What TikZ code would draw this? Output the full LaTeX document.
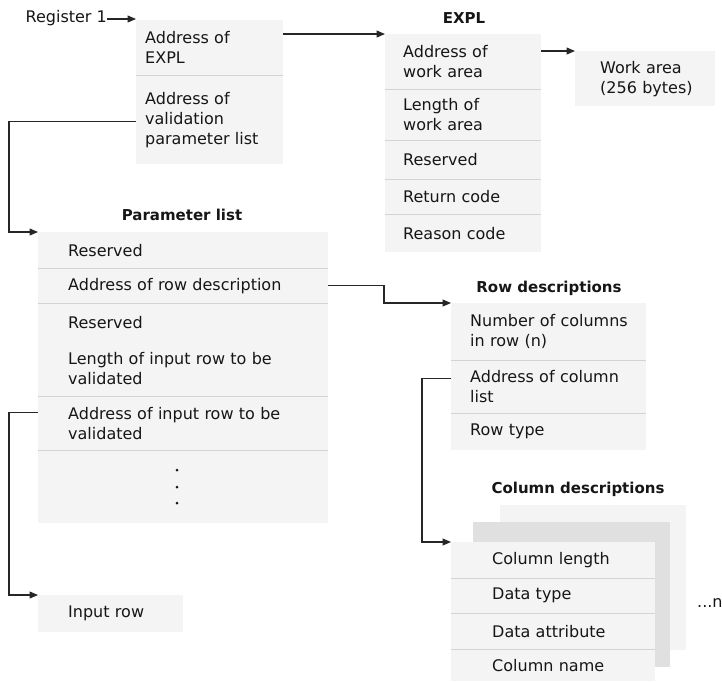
\documentclass[tikz,border=0pt]{standalone}
\usepackage{fontspec}
\setmainfont{DejaVu Sans}
\usetikzlibrary{arrows.meta,positioning}
\definecolor{cellbg}{HTML}{F4F4F4}
\definecolor{cellrule}{HTML}{D4D4D4}
\definecolor{shadebg}{HTML}{E0E0E0}
\definecolor{inkclr}{HTML}{161616}
\definecolor{wireclr}{HTML}{262626}

\begin{document}
\begin{tikzpicture}[x=1pt, y=-1pt,
  font=\fontsize{16}{20}\selectfont, text=inkclr,
  cell/.style={fill=cellbg, anchor=north west, inner sep=0pt, align=left,
    execute at begin node={\leftskip=#1pt\relax}},
  ptrcell/.style={cell=9, text width=147},
  explcell/.style={cell=18, text width=156},
  parmcell/.style={cell=30, text width=290},
  rowcell/.style={cell=19, text width=195},
  colcell/.style={cell=41, text width=204},
  sep/.style={draw=cellrule, line width=1pt},
  heading/.style={font=\fontsize{15}{20}\selectfont\bfseries},
  wire/.style={draw=wireclr, line width=1.1pt, -{Triangle[length=8.5pt,width=7pt]}}]

\useasboundingbox (0,0) rectangle (722,681);

% rails for the elbow connectors
\coordinate (leftrail) at (9,0);
\coordinate (midrail) at (384,0);
\coordinate (colrail) at (422,0);

% Register 1 and the two pointers
\node[anchor=east, inner sep=0pt] (reg) at (107,18) {Register 1};
\node[ptrcell, minimum height=55] (b1a) at (136,20) {Address of\\EXPL};
\node[ptrcell, minimum height=89] (b1b) at (136,75) {Address of\\validation\\parameter list};
\draw[sep] (b1a.south west) -- (b1a.south east);

% EXPL
\node[heading] (explT) at (464,18) {EXPL};
\node[explcell, minimum height=55] (ex1) at (385,34) {Address of\\work area};
\node[explcell, minimum height=51] (ex2) at (385,89) {Length of\\work area};
\node[explcell, minimum height=39] (ex3) at (385,140) {Reserved};
\node[explcell, minimum height=35] (ex4) at (385,179) {Return code};
\node[explcell, minimum height=38] (ex5) at (385,214) {Reason code};
\foreach \r in {ex1,ex2,ex3,ex4}
  \draw[sep] (\r.south west) -- (\r.south east);

% work area
\node[cell=25, text width=140, minimum height=55] (wa) at (575,51) {Work area\\(256 bytes)};

% Parameter list
\node[heading] (parmT) at (182,215) {Parameter list};
\node[parmcell, minimum height=36] (pl1) at (38,232) {Reserved};
\node[parmcell, minimum height=35] (pl2) at (38,268) {Address of row description};
\node[parmcell, minimum height=38] (pl3) at (38,303) {Reserved};
\node[parmcell, minimum height=55] (pl4) at (38,341) {Length of input row to be\\validated};
\node[parmcell, minimum height=54] (pl5) at (38,396) {Address of input row to be\\validated};
\node[parmcell, minimum height=73] (pl6) at (38,450) {};
\foreach \r in {pl1,pl2,pl4,pl5}
  \draw[sep] (\r.south west) -- (\r.south east);
\foreach \dy in {470,487,503}
  \fill[inkclr] (177,\dy) circle (1.5pt);

% input row
\node[cell=30, text width=145, minimum height=37] (ir) at (38,595) {Input row};

% Row descriptions
\node[heading] (rowT) at (549,288) {Row descriptions};
\node[rowcell, minimum height=57] (rd1) at (451,303) {Number of columns\\in row (n)};
\node[rowcell, minimum height=53] (rd2) at (451,360) {Address of column\\list};
\node[rowcell, minimum height=37] (rd3) at (451,413) {Row type};
\foreach \r in {rd1,rd2}
  \draw[sep] (\r.south west) -- (\r.south east);

% Column descriptions (stacked n times)
\node[heading] (colT) at (578,489) {Column descriptions};
\fill[cellbg] (500,505) rectangle (686,650);
\fill[shadebg] (473,522) rectangle (670,667);
\node[colcell, minimum height=36] (cd1) at (451,542) {Column length};
\node[colcell, minimum height=35] (cd2) at (451,578) {Data type};
\node[colcell, minimum height=36] (cd3) at (451,613) {Data attribute};
\node[colcell, minimum height=32] (cd4) at (451,649) {Column name};
\foreach \r in {cd1,cd2,cd3}
  \draw[sep] (\r.south west) -- (\r.south east);
\node[anchor=west, inner sep=0pt] (more) at (697,603) {...n};

% connectors
\draw[wire] ([yshift=-1pt]reg.east) -- ([yshift=-1pt]reg.east -| b1a.west);
\draw[wire] (b1a.east |- ex1.north) -- (ex1.north west);
\draw[wire] (ex1.east |- wa.north) -- (wa.north west);
\draw[wire] ([yshift=-2pt]b1b.west) -- ([yshift=-2pt]b1b.west -| leftrail) |- (pl1.north west);
\draw[wire] (pl2.east) -- (pl2.east -| midrail) |- (rd1.north west);
\draw[wire] ([yshift=11pt]pl5.west) -- ([yshift=11pt]pl5.west -| leftrail) |- (ir.north west);
\draw[wire] ([yshift=8pt]rd2.west) -- ([yshift=8pt]rd2.west -| colrail) |- (cd1.north west);

\end{tikzpicture}
\end{document}
